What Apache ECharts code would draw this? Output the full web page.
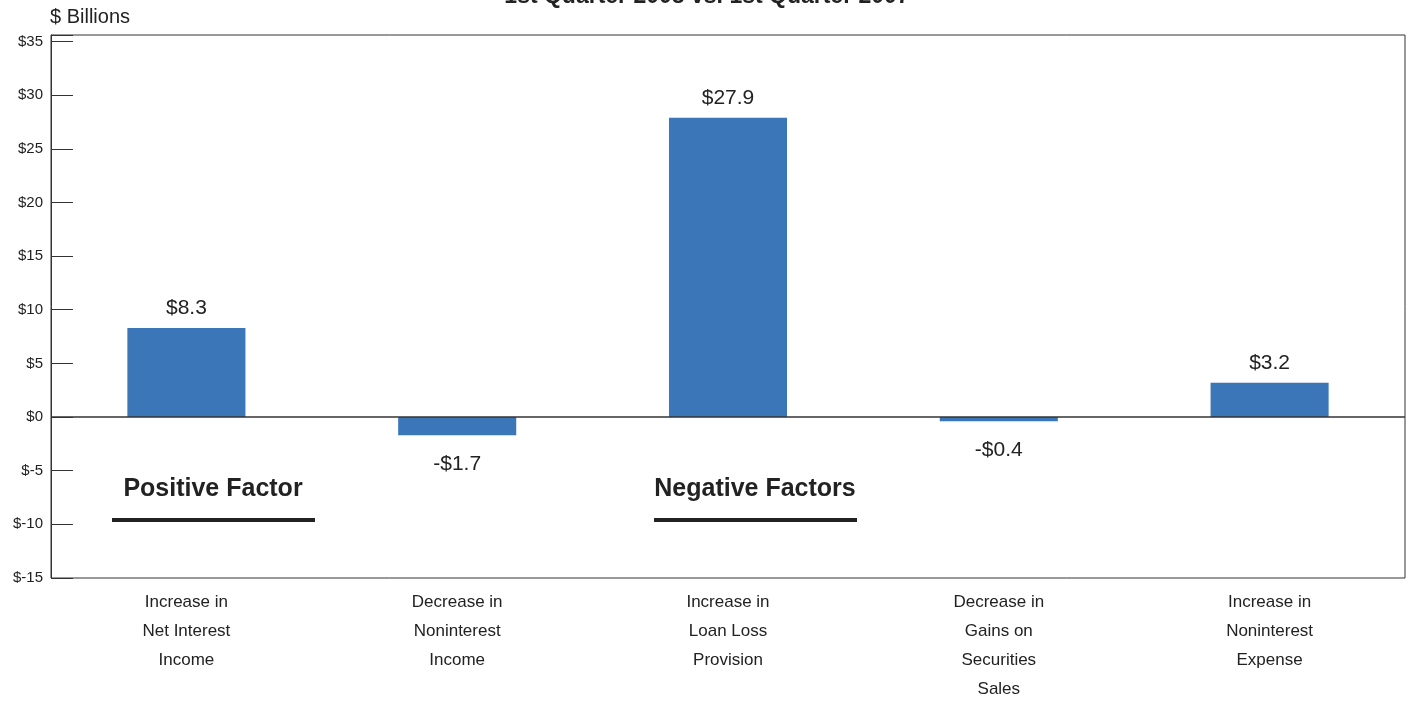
<!DOCTYPE html>
<html>
<head>
<meta charset="utf-8">
<script src="https://cdn.jsdelivr.net/npm/echarts@6/dist/echarts.min.js"></script>
<style>html,body{margin:0;padding:0;background:#fff;}#c{width:1414px;height:704px;}</style>
</head>
<body>
<div id="c"></div>
<script>
const categories = [
  'Increase in\nNet Interest\nIncome',
  'Decrease in\nNoninterest\nIncome',
  'Increase in\nLoan Loss\nProvision',
  'Decrease in\nGains on\nSecurities\nSales',
  'Increase in\nNoninterest\nExpense'
];
const values = [8.3, -1.7, 27.9, -0.4, 3.2];
const yMin = -15, yMax = 35.6, yStep = 5;
const titleText = '1st Quarter 2008 vs. 1st Quarter 2007';
const unitText = '$ Billions';
const groupLabels = ['Positive Factor', 'Negative Factors'];

const font = '"Liberation Sans", Arial, sans-serif';
const chart = echarts.init(document.getElementById('c'), null, {renderer: 'canvas'});
chart.setOption({
  animation: false,
  backgroundColor: '#fff',
  title: {
    text: titleText, left: 'center', top: -20,
    textStyle: {fontFamily: font, fontSize: 23, fontWeight: 'bold', color: '#222'}
  },
  grid: {left: 51, right: 9, top: 35, bottom: 120.5, show: true, borderColor: '#333', borderWidth: 1},
  xAxis: {
    type: 'category', data: categories,
    axisLine: {show: false}, axisTick: {show: false},
    axisLabel: {fontFamily: font, fontSize: 17, color: '#222', lineHeight: 29, margin: 10, interval: 0, verticalAlign: 'top'}
  },
  yAxis: {
    type: 'value', min: yMin, max: yMax, interval: yStep,
    splitLine: {show: false},
    axisLine: {show: true, lineStyle: {color: '#333'}},
    axisTick: {show: true, inside: true, length: 22, lineStyle: {color: '#333'}},
    axisLabel: {fontFamily: font, fontSize: 15, color: '#222', margin: 8,
      formatter: v => (Math.abs(v % yStep) < 1e-9 ? '$' + v : '')}
  },
  series: [{
    type: 'bar', data: values.map(v => ({value: v, label: {position: v >= 0 ? 'top' : 'bottom', distance: v >= 0 ? 9 : 18}})),
    barWidth: '43.6%',
    itemStyle: {color: '#3b76b9'},
    label: {show: true, fontFamily: font, fontSize: 21, color: '#222',
      formatter: p => (p.value >= 0 ? '$' + p.value : '-$' + Math.abs(p.value))},
    markLine: {
      silent: true, symbol: 'none', label: {show: false},
      lineStyle: {color: '#333', width: 1.5, type: 'solid'},
      data: [{yAxis: 0}]
    }
  }],
  graphic: [
    {type: 'text', left: 50, top: 7, style: {text: unitText, font: '20px ' + font, fill: '#222'}},
    {type: 'text', x: 213, y: 489, style: {text: groupLabels[0], font: 'bold 25px ' + font, fill: '#222', textAlign: 'center', textVerticalAlign: 'middle'}},
    {type: 'rect', shape: {x: 112, y: 518, width: 203, height: 4}, style: {fill: '#222'}},
    {type: 'text', x: 755, y: 489, style: {text: groupLabels[1], font: 'bold 25px ' + font, fill: '#222', textAlign: 'center', textVerticalAlign: 'middle'}},
    {type: 'rect', shape: {x: 654, y: 518, width: 203, height: 4}, style: {fill: '#222'}}
  ]
});
</script>
</body>
</html>
